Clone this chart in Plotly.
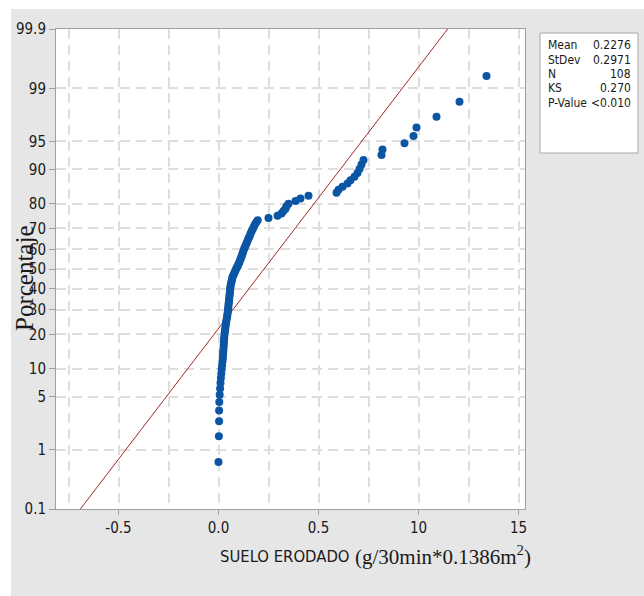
from statistics import NormalDist

import plotly.graph_objects as go

# Eroded soil per plot, sorted ascending (g / 30 min * 0.1386 m2)
suelo_erodado = [
    0.000, 0.002, 0.003, 0.003, 0.004, 0.006, 0.008, 0.010, 0.012, 0.014,
    0.016, 0.018, 0.020, 0.022, 0.023, 0.024, 0.025, 0.026, 0.027, 0.028,
    0.029, 0.030, 0.032, 0.033, 0.035, 0.036, 0.038, 0.040, 0.042, 0.044,
    0.045, 0.047, 0.048, 0.049, 0.050, 0.051, 0.052, 0.053, 0.054, 0.055,
    0.056, 0.057, 0.058, 0.059, 0.060, 0.062, 0.064, 0.066, 0.068, 0.070,
    0.074, 0.078, 0.082, 0.086, 0.090, 0.095, 0.099, 0.103, 0.107, 0.110,
    0.114, 0.117, 0.120, 0.123, 0.126, 0.130, 0.134, 0.138, 0.142, 0.146,
    0.150, 0.154, 0.158, 0.162, 0.167, 0.172, 0.177, 0.182, 0.189, 0.196,
    0.250, 0.295, 0.315, 0.325, 0.335, 0.340, 0.350, 0.385, 0.410, 0.450,
    0.590, 0.600, 0.620, 0.645, 0.660, 0.680, 0.695, 0.705, 0.715, 0.725,
    0.815, 0.820, 0.930, 0.975, 0.990, 1.090, 1.205, 1.340,
]

# Summary statistics shown in the legend box
stat_names = ["Mean", "StDev", "N", "KS", "P-Value"]
stat_values = ["0.2276", "0.2971", "108", "0.270", "<0.010"]
media = 0.2276
desv = 0.2971

# Probability-scale ticks (percent)
pct_ticks = [0.1, 1, 5, 10, 20, 30, 40, 50, 60, 70, 80, 90, 95, 99, 99.9]
pct_labels = ["0.1", "1", "5", "10", "20", "30", "40", "50", "60", "70",
              "80", "90", "95", "99", "99.9"]

x_ticks = [-0.5, 0.0, 0.5, 1.0, 1.5]
x_labels = ["-0.5", "0.0", "0.5", "10", "15"]

nd = NormalDist()
n = len(suelo_erodado)
# Benard median-rank plotting positions, placed on a normal-quantile axis
z_pts = [nd.inv_cdf((i - 0.3) / (n + 0.4)) for i in range(1, n + 1)]
pct_pts = [100 * (i - 0.3) / (n + 0.4) for i in range(1, n + 1)]

z_lo = nd.inv_cdf(0.001)
z_hi = nd.inv_cdf(0.999)
# Fitted normal line from the reported mean and standard deviation
line_z = [z_lo, z_hi]
line_x = [media + desv * z for z in line_z]

W, H = 644, 596
L, R, T, B = 56, 525, 29, 509


def px(x):
    return (x - L) / (R - L)


def py(y):
    return (B - y) / (B - T)


SANS = "DejaVu Sans Condensed, Liberation Sans Narrow, Arial Narrow, sans-serif"
SERIF = "Liberation Serif, Times New Roman, serif"
GRID = "#dedede"
AXIS = "#a0a0a0"
TXT = "#1a1a1a"

fig = go.Figure()
fig.add_trace(go.Scatter(
    x=line_x, y=line_z, mode="lines",
    line=dict(color="#9e2a2a", width=1), hoverinfo="skip", showlegend=False,
))
fig.add_trace(go.Scatter(
    x=suelo_erodado, y=z_pts, mode="markers",
    marker=dict(color="#0b56a4", size=8, line=dict(width=0)),
    customdata=pct_pts,
    hovertemplate="%{x:.3f}<br>%{customdata:.1f}%<extra></extra>",
    showlegend=False,
))

fig.update_xaxes(
    range=[(L - 218.5) / 200, (R - 218.5) / 200],
    tickvals=x_ticks, ticktext=x_labels,
    ticks="outside", ticklen=5, tickcolor=AXIS,
    showline=True, mirror=True, linecolor=AXIS, linewidth=1,
    showgrid=True, gridcolor=GRID, gridwidth=1.5, griddash="10px,6px",
    minor=dict(dtick=0.25, tick0=0, showgrid=True, gridcolor=GRID,
               gridwidth=1.5, griddash="10px,6px", ticks=""),
    zeroline=False,
    tickfont=dict(family=SANS, size=15, color=TXT),
)
fig.update_yaxes(
    range=[z_lo, z_hi],
    tickvals=[nd.inv_cdf(p / 100) for p in pct_ticks], ticktext=pct_labels,
    ticks="outside", ticklen=6, tickcolor=AXIS,
    showline=True, mirror=True, linecolor=AXIS, linewidth=1,
    showgrid=True, gridcolor=GRID, gridwidth=1.5, griddash="10px,6px",
    zeroline=False,
    tickfont=dict(family=SANS, size=15, color=TXT),
)

shapes = [
    # white strips framing the grey panel
    dict(type="rect", xref="paper", yref="paper", layer="below",
         x0=px(0), x1=px(11), y0=py(H), y1=py(0),
         fillcolor="white", line=dict(width=0)),
    dict(type="rect", xref="paper", yref="paper", layer="below",
         x0=px(0), x1=px(W), y0=py(9), y1=py(0),
         fillcolor="white", line=dict(width=0)),
    # statistics box
    dict(type="rect", xref="paper", yref="paper",
         x0=px(540), x1=px(638), y0=py(153), y1=py(33),
         fillcolor="white", line=dict(color="#a8a8a8", width=1)),
]

annotations = []
row_y = [45, 59.5, 74, 88.5, 103]
for name, val, yy in zip(stat_names, stat_values, row_y):
    annotations.append(dict(
        xref="paper", yref="paper", x=px(546), y=py(yy), text=name,
        showarrow=False, xanchor="left", yanchor="middle",
        font=dict(family=SANS, size=12, color=TXT)))
    annotations.append(dict(
        xref="paper", yref="paper", x=px(633), y=py(yy), text=val,
        showarrow=False, xanchor="right", yanchor="middle",
        font=dict(family=SANS, size=12, color=TXT)))

# axis titles
annotations.append(dict(
    xref="paper", yref="paper", x=px(24), y=py(278), text="Porcentaje",
    textangle=-90, showarrow=False, xanchor="center", yanchor="middle",
    font=dict(family=SERIF, size=25, color=TXT)))
annotations.append(dict(
    xref="paper", yref="paper", x=px(352), y=py(556), text="SUELO ERODADO",
    showarrow=False, xanchor="right", yanchor="middle",
    font=dict(family=SANS, size=16.5, color=TXT)))
annotations.append(dict(
    xref="paper", yref="paper", x=px(353), y=py(555),
    text="(g/30min*0.1386m<sup>2</sup>)",
    showarrow=False, xanchor="left", yanchor="middle",
    font=dict(family=SERIF, size=21, color=TXT)))

fig.update_layout(
    width=W, height=H,
    margin=dict(l=L, r=W - R, t=T, b=H - B, pad=0),
    paper_bgcolor="#e6e6e6", plot_bgcolor="white",
    shapes=shapes, annotations=annotations,
    showlegend=False,
)

fig.write_html("out.html")
